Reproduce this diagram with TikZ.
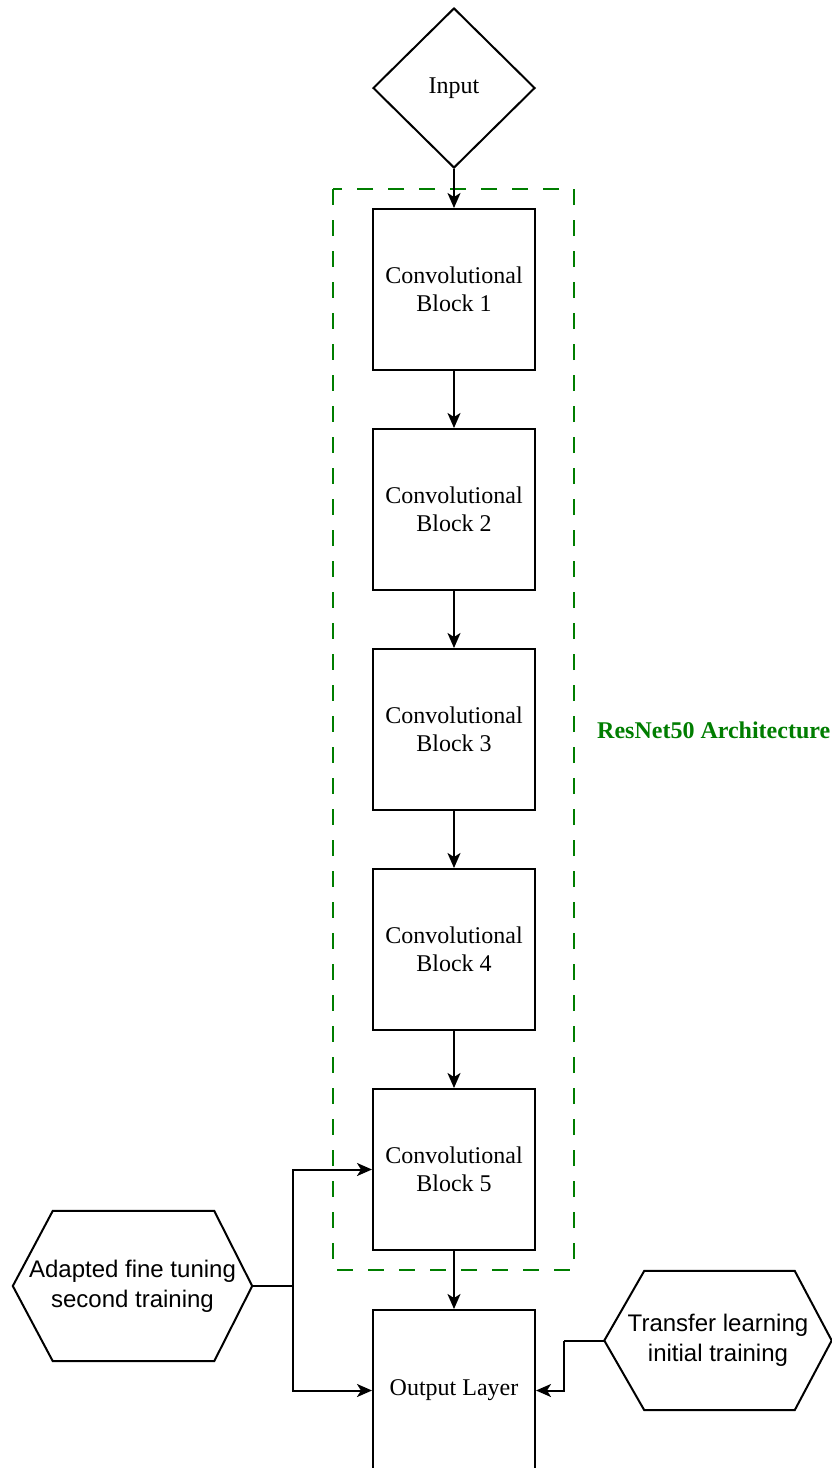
\documentclass[tikz,border=0pt]{standalone}
\usepackage{fontspec}
\setmainfont{Liberation Serif}
\newfontfamily\arialfont{Liberation Sans}
\usetikzlibrary{shapes.geometric,arrows.meta,calc}
\definecolor{dgreen}{RGB}{0,125,0}
\begin{document}
\begin{tikzpicture}[x=1pt,y=-1pt,
  every node/.style={inner sep=0pt},
  lw/.style={line width=2pt},
  blockbox/.style={draw, lw, rectangle, minimum width=162pt, minimum height=161pt, align=center, font=\fontsize{24}{28}\selectfont},
  arr/.style={lw, -{Stealth[length=15pt,width=13pt,inset=4pt]}},
  hexbox/.style={align=center, font=\arialfont\fontsize{24}{30}\selectfont},
  frame/.style={draw=dgreen, line width=2pt, dash pattern=on 16pt off 15pt}
]
\useasboundingbox (0,0) rectangle (832,1468);
\clip (0,0) rectangle (832,1468);

% dashed frame
\draw[frame] (333,189) rectangle (574,1270);

% diamond
\node[draw, lw, diamond, minimum width=162pt, minimum height=160pt, font=\fontsize{24}{28}\selectfont] (input) at (454,88) {Input};

% blocks
\node[blockbox] (b1) at (454,289.5) {Convolutional\\Block 1};
\node[blockbox] (b2) at (454,509.5) {Convolutional\\Block 2};
\node[blockbox] (b3) at (454,729.5) {Convolutional\\Block 3};
\node[blockbox] (b4) at (454,949.5) {Convolutional\\Block 4};
\node[blockbox] (b5) at (454,1169.5) {Convolutional\\Block 5};
\node[blockbox] (out) at (454,1390.5) {Output Layer};

% label
\node[anchor=west, text=dgreen, font=\bfseries\fontsize{24}{28}\selectfont] (lbl) at (597,730) {ResNet50 Architecture};

% hexagons
\node[hexbox, minimum width=239pt, minimum height=150pt] (adapt) at (132.5,1286) {Adapted fine tuning\\second training};
\draw[lw] (adapt.west) -- ($(adapt.north west)+(40,0)$) -- ($(adapt.north east)+(-38,0)$) -- (adapt.east)
  -- ($(adapt.south east)+(-38,0)$) -- ($(adapt.south west)+(40,0)$) -- cycle;

\node[hexbox, minimum width=227pt, minimum height=139pt] (transfer) at (718,1340.5) {Transfer learning\\initial training};
\draw[lw] (transfer.west) -- ($(transfer.north west)+(40,0)$) -- ($(transfer.north east)+(-37,0)$) -- (transfer.east)
  -- ($(transfer.south east)+(-37,0)$) -- ($(transfer.south west)+(40,0)$) -- cycle;

% connectors
\draw[arr] (input.south) -- (b1.north);
\draw[arr] (b1.south) -- (b2.north);
\draw[arr] (b2.south) -- (b3.north);
\draw[arr] (b3.south) -- (b4.north);
\draw[arr] (b4.south) -- (b5.north);
\draw[arr] (b5.south) -- (out.north);

\coordinate (lj) at (293,1286);
\draw[lw] (adapt.east) -- (lj);
\draw[arr] (lj) |- (b5.west);
\draw[arr] (lj) |- (out.west);

\coordinate (rj) at (564,1340.5);
\draw[lw] (transfer.west) -- (rj);
\draw[arr] (rj) |- (out.east);
\end{tikzpicture}
\end{document}
